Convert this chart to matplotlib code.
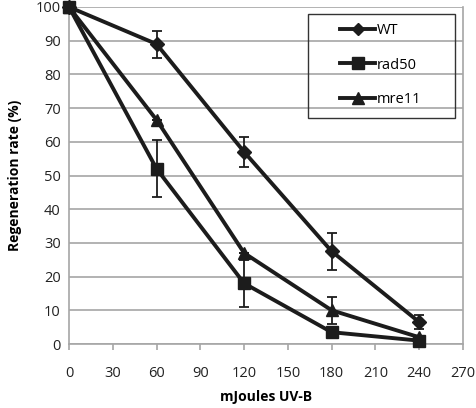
import numpy as np
import matplotlib
matplotlib.use("Agg")
import matplotlib.pyplot as plt
from matplotlib.lines import Line2D
from matplotlib.patches import Rectangle

plt.rcParams['font.family'] = ['Open Sans', 'DejaVu Sans']

dose = [0, 60, 120, 180, 240]
wt = [100, 89, 57, 27.5, 6.5]
wt_err = [0, 4, 4.5, 5.5, 2]
rad50 = [100, 52, 18, 3.5, 1]
rad50_err = [0, 8.5, 7, 0, 0]
mre11 = [100, 66.5, 27, 10, 2]
mre11_err = [0, 0, 0, 4, 0]

INK = "#1c1c1c"
GRID = "#a6a6a6"

fig = plt.figure(figsize=(4.77, 4.08), dpi=100)
ax = fig.add_axes([69/477, 1 - 344/408, (463-69)/477, (344-7)/408])

series = [("WT", wt, wt_err, "D", 7),
          ("rad50", rad50, rad50_err, "s", 9),
          ("mre11", mre11, mre11_err, "^", 9)]
handles = []
for name, y, err, m, ms in series:
    ax.errorbar(dose, y, yerr=err, color=INK, lw=2.8, marker=m, ms=ms,
                capsize=3.5, elinewidth=1.3, capthick=1.3,
                clip_on=False, zorder=3)
    handles.append(Line2D([], [], color=INK, lw=2.8, marker=m, ms=ms - 1, label=name))

ax.set_xlim(0, 270)
ax.set_ylim(0, 100)
ax.set_xticks(np.arange(0, 271, 30))
ax.set_yticks(np.arange(0, 101, 10))
ax.yaxis.grid(True, color=GRID, lw=1.2)
ax.set_axisbelow(True)
for s in ["left", "bottom", "right"]:
    ax.spines[s].set_color(GRID)
    ax.spines[s].set_linewidth(1.2)
ax.spines["top"].set_visible(False)
ax.tick_params(axis="x", direction="out", length=4, color=GRID, width=1.2,
               labelsize=10.5, pad=12, labelcolor="#222")
ax.tick_params(axis="y", length=0, labelsize=10.5, pad=6, labelcolor="#222")

ax.set_ylabel("Regeneration rate (%)", fontsize=10, fontweight="bold", labelpad=10)
fig.text(266/477, 1 - 397/408, "mJoules UV-B", fontsize=10, fontweight="bold",
         ha="center", va="center")

# legend frame drawn separately (Excel-style wide box)
ax.add_patch(Rectangle((0.607, 0.671), 0.373, 0.308, transform=ax.transAxes,
                       fill=True, facecolor="none", edgecolor="#333", lw=1.0,
                       zorder=4))
ax.legend(handles=handles, loc="upper left", bbox_to_anchor=(0.688, 0.953),
          fontsize=10.5, frameon=False, labelspacing=1.35, borderpad=0,
          handlelength=2.4, handletextpad=0.1, borderaxespad=0)

fig.savefig("out.png", dpi=100)
